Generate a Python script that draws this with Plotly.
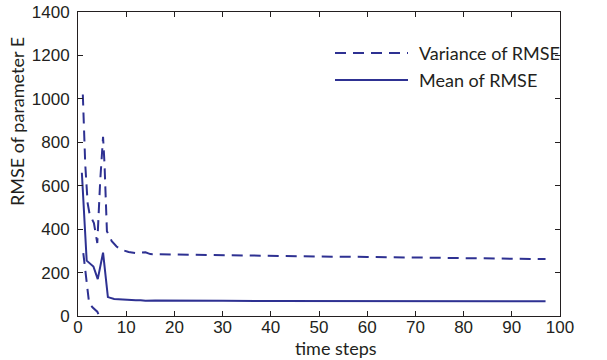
import plotly.graph_objects as go

# ---- data ----
mean_x = [0.8, 1.8, 3.2, 4.1, 5.2, 6.2, 7.5, 10, 12, 13, 14, 16, 20, 30, 40, 50, 60, 70, 80, 90, 97]
mean_y = [660, 255, 228, 170, 292, 87, 78, 74, 72, 73, 70, 71, 70, 70, 69, 69, 69, 68, 68, 68, 68]

var_x = [1, 1.5, 2.0, 2.4, 3.3, 4.0, 4.6, 5.0, 5.2, 5.5, 6.0, 7.0, 8.0, 9.0, 10.5, 12, 13, 14, 15,
         20, 30, 40, 50, 60, 70, 80, 82, 90, 97]
var_y = [1020, 700, 520, 470, 428, 336, 620, 780, 825, 700, 390, 345, 320, 305, 295, 290, 290, 293, 285,
         283, 280, 278, 274, 272, 270, 266, 268, 264, 262]

var_low_x = [1.1, 1.7, 2.3, 3.0, 4.0, 4.4]
var_low_y = [290, 160, 60, 40, 20, 0]

series_names = ["Variance of RMSE", "Mean of RMSE"]
x_ticks = [0, 10, 20, 30, 40, 50, 60, 70, 80, 90, 100]
y_ticks = [0, 200, 400, 600, 800, 1000, 1200, 1400]

COLOR = "#2E3192"
DASH = "11px,7px"
TXT = "#231F20"

fig = go.Figure()
fig.add_trace(go.Scatter(x=var_x + [None] + var_low_x, y=var_y + [None] + var_low_y,
                         mode="lines", name=series_names[0], connectgaps=False,
                         line=dict(color=COLOR, width=2, dash=DASH)))
fig.add_trace(go.Scatter(x=mean_x, y=mean_y, mode="lines", name=series_names[1],
                         line=dict(color=COLOR, width=2)))

axis_common = dict(showline=True, linecolor="#231F20", linewidth=1, mirror="ticks",
                   ticks="inside", ticklen=5, tickcolor="#231F20", showgrid=False,
                   zeroline=False, automargin=False,
                   tickfont=dict(family="Liberation Sans, Arial", size=17, color=TXT))
fig.update_xaxes(range=[0, 100], tickvals=x_ticks, ticklabelstandoff=-4, **axis_common)
fig.update_yaxes(range=[0, 1400], tickvals=y_ticks, ticklabelstandoff=4, **axis_common)

W, H = 607, 360
L, R, T, B = 78, 47, 12, 44
pw, ph = W - L - R, H - T - B


def px(xp):
    return (xp - L) / pw


def py(yp):
    return (H - B - yp) / ph


title_font = dict(family="Lato, Noto Sans", size=18, color=TXT)
annotations = [
    dict(text="time steps", x=px(336), y=py(361), xref="paper", yref="paper",
         xanchor="center", yanchor="bottom", showarrow=False, font=title_font),
    dict(text="RMSE of parameter E", x=px(17), y=py(122), xref="paper", yref="paper",
         xanchor="center", yanchor="middle", showarrow=False, textangle=-90, font=title_font),
]

# manual legend
leg_y = [53, 80]
shapes = []
for i, (name, yy) in enumerate(zip(series_names, leg_y)):
    annotations.append(dict(text=name, x=px(417), y=py(yy), xref="paper", yref="paper",
                            xanchor="left", yanchor="middle", showarrow=False,
                            font=dict(family="Lato, Noto Sans", size=18, color=TXT)))
    shapes.append(dict(type="line", xref="paper", yref="paper",
                       x0=px(335), x1=px(408), y0=py(yy), y1=py(yy),
                       line=dict(color=COLOR, width=2, dash=DASH if i == 0 else "solid")))

fig.update_layout(
    width=W, height=H,
    margin=dict(l=L, r=R, t=T, b=B),
    plot_bgcolor="white", paper_bgcolor="white",
    showlegend=False,
    annotations=annotations, shapes=shapes,
)
fig.write_html("out.html")
